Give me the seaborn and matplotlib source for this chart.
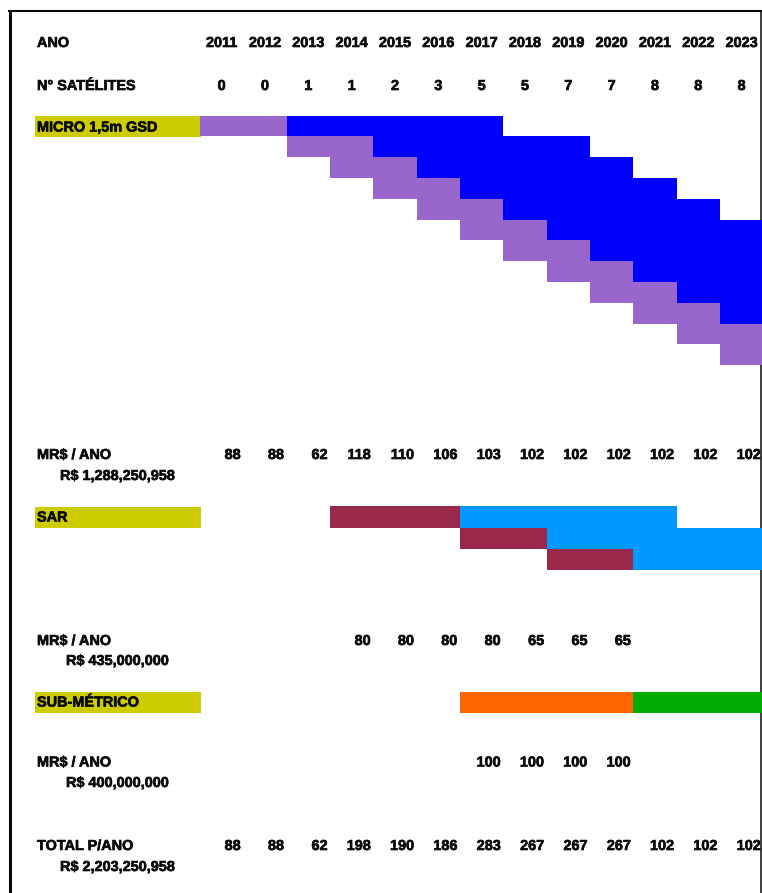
import numpy as np
import matplotlib
matplotlib.use("Agg")
import matplotlib.pyplot as plt
import matplotlib.patheffects as pe
from matplotlib.colors import ListedColormap
from matplotlib.patches import Rectangle
import seaborn as sns

# ---------------------------------------------------------------- data
years = list(range(2011, 2024))
satellites = [0, 0, 1, 1, 2, 3, 5, 5, 7, 7, 8, 8, 8]

# MICRO 1,5m GSD: one row per satellite (development -> operation)
micro_dev_start = [2011, 2013, 2014, 2015, 2016, 2017, 2018, 2019, 2020, 2021, 2022, 2023]
micro_op_start = [2013, 2015, 2016, 2017, 2018, 2019, 2020, 2021, 2022, 2023, 2024, 2025]
micro_op_end = [2018, 2020, 2021, 2022, 2023, 2024, 2025, 2026, 2027, 2028, 2029, 2030]
micro_cost = [88, 88, 62, 118, 110, 106, 103, 102, 102, 102, 102, 102, 102]
micro_total = "R$ 1,288,250,958"

# SAR
sar_build_start = [2014, 2017, 2019]
sar_op_start = [2017, 2019, 2021]
sar_op_end = [2022, 2024, 2026]
sar_cost = [None, None, None, 80, 80, 80, 80, 65, 65, 65, None, None, None]
sar_total = "R$ 435,000,000"

# SUB-MÉTRICO
sub_build_start = [2017]
sub_op_start = [2021]
sub_op_end = [2026]
sub_cost = [None, None, None, None, None, None, 100, 100, 100, 100, None, None, None]
sub_total = "R$ 400,000,000"

year_total = [88, 88, 62, 198, 190, 186, 283, 267, 267, 267, 102, 102, 102]
grand_total = "R$ 2,203,250,958"

# ---------------------------------------------------------------- style
sns.set_theme(style="white")
plt.rcParams["font.family"] = ["Liberation Sans", "DejaVu Sans"]

YELLOW = "#CCCC00"
MICRO_COLORS = ["#9966CC", "#0000FF"]
SAR_COLORS = ["#99284A", "#0099FF"]
SUB_COLORS = ["#FF6600", "#00AA00"]
FS = 10.4
INK = "#0a0a0a"
HEAVY = [pe.withStroke(linewidth=0.45, foreground=INK)]

W, H = 762, 893
X0 = 200.0          # left edge of the first year column (px)
COL_W = 43.33       # width of one year column (px)
ROW_H = 20.8

fig = plt.figure(figsize=(W / 100, H / 100), dpi=100)
ax = fig.add_axes([0, 0, 1, 1])
ax.set_xlim(0, W)
ax.set_ylim(H, 0)
ax.axis("off")


def px_axes(left, top, width, height):
    return fig.add_axes([left / W, 1 - (top + height) / H, width / W, height / H])


def phase_grid(build_start, op_start, op_end):
    yrs = np.array(years)
    grid = np.zeros((len(build_start), len(years)))
    for i, (b, o, e) in enumerate(zip(build_start, op_start, op_end)):
        grid[i, (yrs >= b) & (yrs < o)] = 1
        grid[i, (yrs >= o) & (yrs < e)] = 2
    return grid


def draw_block(grid, colors, top, row_h):
    hax = px_axes(X0, top, COL_W * len(years), row_h * grid.shape[0])
    sns.heatmap(grid, mask=grid == 0, cmap=ListedColormap(colors),
                vmin=0.5, vmax=2.5, cbar=False, ax=hax,
                xticklabels=False, yticklabels=False, linewidths=0)
    hax.axis("off")


def col_center(i):
    return X0 + (i + 0.5) * COL_W


def col_right(i):
    return X0 + (i + 1) * COL_W - 2.5


def label(x, y, s, ha="left", zorder=3):
    ax.text(x, y, s, ha=ha, va="baseline", fontsize=FS, fontweight="bold",
            color=INK, path_effects=HEAVY, zorder=zorder)


def value_row(values, y):
    for i, v in enumerate(values):
        if v is not None:
            label(col_right(i), y, str(v), ha="right")


def name_box(top, height, s, baseline):
    ax.add_patch(Rectangle((35, top), 165.5, height, facecolor=YELLOW,
                           edgecolor="none", zorder=1))
    label(37, baseline, s)


# ---------------------------------------------------------------- frame
ax.plot([9.5, 9.5], [10.5, H], color=INK, lw=2.2, solid_capstyle="butt")
ax.plot([8, 762], [11, 11], color=INK, lw=1.5, solid_capstyle="butt")
ax.plot([761, 761], [10.5, H], color=INK, lw=1.1, solid_capstyle="butt")

# ---------------------------------------------------------------- header
label(37, 47, "ANO")
label(37, 90, "N° SATÉLITES")
for i, (yr, n) in enumerate(zip(years, satellites)):
    label(col_center(i), 47, str(yr), ha="center")
    label(col_center(i), 90, str(n), ha="center")

# ---------------------------------------------------------------- MICRO
name_box(115.5, 21.2, "MICRO 1,5m GSD", 131.5)
draw_block(phase_grid(micro_dev_start, micro_op_start, micro_op_end),
           MICRO_COLORS, 115.5, ROW_H)
label(37, 459, "MR$ / ANO")
value_row(micro_cost, 459)
label(60, 480, micro_total)

# ---------------------------------------------------------------- SAR
name_box(506.5, 21.5, "SAR", 521.5)
draw_block(phase_grid(sar_build_start, sar_op_start, sar_op_end),
           SAR_COLORS, 506.5, 21.0)
label(37, 645, "MR$ / ANO")
value_row(sar_cost, 645)
label(66, 665, sar_total)

# ---------------------------------------------------------------- SUB-MÉTRICO
name_box(691.5, 21.5, "SUB-MÉTRICO", 706.5)
draw_block(phase_grid(sub_build_start, sub_op_start, sub_op_end),
           SUB_COLORS, 691.5, 21.5)
label(37, 766.5, "MR$ / ANO")
value_row(sub_cost, 766.5)
label(66, 787, sub_total)

# ---------------------------------------------------------------- totals
label(37, 850, "TOTAL P/ANO")
value_row(year_total, 850)
label(60, 871, grand_total)

fig.savefig("out.png", dpi=100)
